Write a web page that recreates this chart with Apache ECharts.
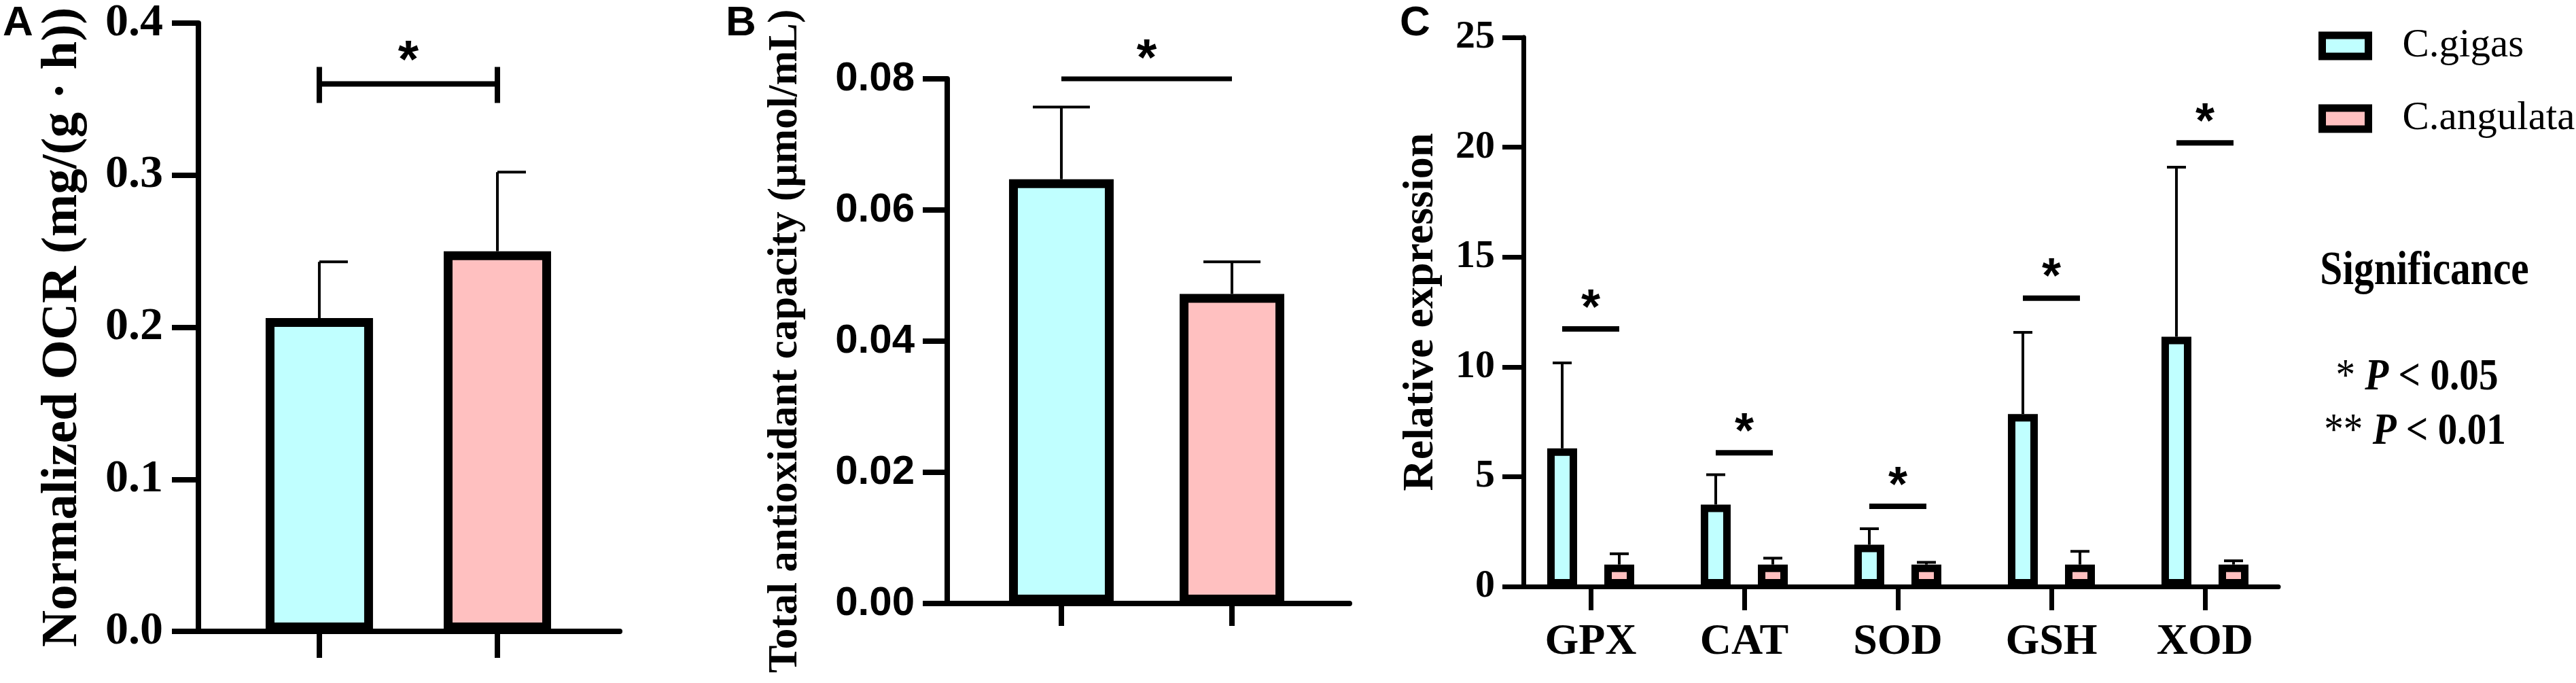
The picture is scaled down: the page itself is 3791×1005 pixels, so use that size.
<!DOCTYPE html>
<html>
<head>
<meta charset="utf-8">
<title>Oyster OCR, T-AOC and antioxidant gene expression</title>
<script src="https://cdn.jsdelivr.net/npm/echarts@6/dist/echarts.min.js"></script>
<style>
  html, body { margin: 0; padding: 0; background: #fff; }
  #main { width: 3791px; height: 1005px; }
</style>
</head>
<body>
<div id="main"></div>
<script>
// A - normalized oxygen consumption rate
var groups = ['C.gigas', 'C.angulata'];
var ocrMean = [0.206, 0.250];
var ocrSd = [0.037, 0.052];
var ocrSig = [0.36];

// B - total antioxidant capacity
var taocMean = [0.0647, 0.0472];
var taocSd = [0.0110, 0.0049];
var taocSig = [0.08];

// C - relative expression of antioxidant genes
var genes = ['GPX', 'CAT', 'SOD', 'GSH', 'XOD'];
var gigasExpr = [6.29, 3.73, 1.90, 7.85, 11.37];
var gigasSd = [3.89, 1.36, 0.73, 3.72, 7.72];
var angulataExpr = [1, 1, 1, 1, 1];
var angulataSd = [0.49, 0.29, 0.10, 0.60, 0.17];
var geneSig = [11.73, 6.09, 3.65, 13.13, 20.2];

var CYAN = '#C0FFFF', PINK = '#FFC0C0';
var groupColors = [CYAN, PINK];
var SERIF = 'Liberation Serif', SANS = 'Liberation Sans';

var chart = echarts.init(document.getElementById('main'));

function idx(arr) { return arr.map(function (d, i) { return i; }); }

// error bar: line up from the bar top plus a cap
function errorBar(capL, capR, dx) {
    return function (params, api) {
        var base = api.coord([api.value(0), api.value(1)]);
        var top = api.coord([api.value(0), api.value(1) + api.value(2)]);
        var cx = base[0] + dx;
        return {
            type: 'group',
            children: [
                { type: 'line', shape: { x1: cx, y1: base[1], x2: cx, y2: top[1] }, style: { stroke: '#000', lineWidth: 4 } },
                { type: 'line', shape: { x1: cx - capL, y1: top[1], x2: cx + capR, y2: top[1] }, style: { stroke: '#000', lineWidth: 4 } }
            ]
        };
    };
}

// significance line (optionally with end ticks) and a star above it
function sigMark(o) {
    return function (params, api) {
        var p0 = api.coord([api.value(0), api.value(2)]);
        var p1 = api.coord([api.value(1), api.value(2)]);
        var x0 = p0[0] + o.dx0, x1 = p1[0] + o.dx1, y = p0[1];
        var kids = [
            { type: 'line', shape: { x1: x0, y1: y, x2: x1, y2: y }, style: { stroke: '#000', lineWidth: o.lw } },
            { type: 'text', x: (x0 + x1) / 2, y: y - o.starGap,
              style: { text: '*', fill: '#000', align: 'center', verticalAlign: 'middle',
                       fontFamily: SANS, fontWeight: 'bold', fontSize: o.starSize } }
        ];
        if (o.ends) {
            kids.push({ type: 'line', shape: { x1: x0, y1: y - o.ends[0], x2: x0, y2: y + o.ends[1] }, style: { stroke: '#000', lineWidth: o.lw } });
            kids.push({ type: 'line', shape: { x1: x1, y1: y - o.ends[0], x2: x1, y2: y + o.ends[1] }, style: { stroke: '#000', lineWidth: o.lw } });
        }
        return { type: 'group', children: kids };
    };
}

function xAxisOf(grid, min, max, ticks, tickLen, lw, label) {
    return {
        gridIndex: grid, type: 'value', min: min, max: max,
        axisLine: { show: true, onZero: false, lineStyle: { color: '#000', width: lw } },
        axisTick: { show: true, customValues: ticks, length: tickLen, lineStyle: { color: '#000', width: lw } },
        axisLabel: label || { show: false },
        splitLine: { show: false }
    };
}

function yAxisOf(grid, max, interval, digits, tickLen, lw, label, name, nameGap, nameSize) {
    return {
        gridIndex: grid, type: 'value', min: 0, max: max, interval: interval,
        axisLine: { show: true, onZero: false, lineStyle: { color: '#000', width: lw } },
        axisTick: { show: true, length: tickLen, lineStyle: { color: '#000', width: lw } },
        axisLabel: Object.assign({ color: '#000', fontWeight: 'bold',
            formatter: function (v) { return digits === 0 ? String(Math.round(v)) : v.toFixed(digits); } }, label),
        splitLine: { show: false },
        name: name, nameLocation: 'middle', nameGap: nameGap,
        nameTextStyle: { color: '#000', fontFamily: SERIF, fontWeight: 'bold', fontSize: nameSize }
    };
}

var option = {
    animation: false,
    backgroundColor: '#fff',
    grid: [
        { left: 292, top: 32, width: 620, height: 897 },
        { left: 1394, top: 116, width: 592, height: 772 },
        { left: 2242, top: 55, width: 1111, height: 808 }
    ],
    xAxis: [
        xAxisOf(0, -0.679, 1.687, idx(groups), 39, 8),
        xAxisOf(1, -0.669, 1.689, idx(groups), 33, 8),
        xAxisOf(2, -0.438, 4.478, idx(genes), 35, 7, {
            show: true, customValues: idx(genes), margin: 50, color: '#000',
            fontFamily: SERIF, fontWeight: 'bold', fontSize: 64,
            formatter: function (v) { return genes[Math.round(v)]; }
        })
    ],
    yAxis: [
        yAxisOf(0, 0.4, 0.1, 1, 39, 8, { margin: 52, fontFamily: SERIF, fontSize: 68 },
            'Normalized OCR (mg/(g · h))', 162, 75),
        yAxisOf(1, 0.08, 0.02, 2, 36, 8, { margin: 48, fontFamily: SANS, fontSize: 60 },
            'Total antioxidant capacity (µmol/mL)', 207, 61),
        yAxisOf(2, 25, 5, 0, 31, 7, { margin: 42, fontFamily: SERIF, fontSize: 58 },
            'Relative expression', 119, 64)
    ],
    legend: {
        data: ['C.gigas', 'C.angulata'],
        orient: 'vertical', left: 3412, top: 38, padding: 0,
        itemWidth: 68, itemHeight: 31, itemGap: 48, icon: 'rect',
        selectedMode: false,
        itemStyle: { borderColor: '#000', borderWidth: 11 },
        textStyle: { color: '#000', fontFamily: SERIF, fontSize: 59, padding: [0, 0, 0, 45] }
    },
    graphic: [
        { type: 'text', x: 4, y: 35, style: { text: 'A', fill: '#000', verticalAlign: 'middle', fontFamily: SANS, fontWeight: 'bold', fontSize: 62 } },
        { type: 'text', x: 1068, y: 35, style: { text: 'B', fill: '#000', verticalAlign: 'middle', fontFamily: SANS, fontWeight: 'bold', fontSize: 62 } },
        { type: 'text', x: 2060, y: 35, style: { text: 'C', fill: '#000', verticalAlign: 'middle', fontFamily: SANS, fontWeight: 'bold', fontSize: 62 } },
        { type: 'text', x: 3568, y: 400, scaleX: 0.85,
          style: { text: 'Significance', fill: '#000', align: 'center', verticalAlign: 'middle', fontFamily: SERIF, fontWeight: 'bold', fontSize: 70 } },
        { type: 'text', x: 3557, y: 556, scaleX: 0.88,
          style: { text: '{s|*} {p|P} {n|< 0.05}', fill: '#000', align: 'center', verticalAlign: 'middle',
                   fontFamily: SERIF, fontWeight: 'bold', fontSize: 65,
                   rich: { s: { fontFamily: SERIF, fontSize: 65 },
                           p: { fontFamily: SERIF, fontSize: 65, fontWeight: 'bold', fontStyle: 'italic' },
                           n: { fontFamily: SERIF, fontSize: 65, fontWeight: 'bold' } } } },
        { type: 'text', x: 3554, y: 636, scaleX: 0.88,
          style: { text: '{s|**} {p|P} {n|< 0.01}', fill: '#000', align: 'center', verticalAlign: 'middle',
                   fontFamily: SERIF, fontWeight: 'bold', fontSize: 65,
                   rich: { s: { fontFamily: SERIF, fontSize: 65 },
                           p: { fontFamily: SERIF, fontSize: 65, fontWeight: 'bold', fontStyle: 'italic' },
                           n: { fontFamily: SERIF, fontSize: 65, fontWeight: 'bold' } } } }
    ],
    series: [
        // A
        {
            name: 'OCR', type: 'bar', xAxisIndex: 0, yAxisIndex: 0, barWidth: 158,
            itemStyle: { borderColor: '#000', borderWidth: 13 },
            data: ocrMean.map(function (v, i) { return { value: [i, v], itemStyle: { color: groupColors[i] } }; })
        },
        {
            name: 'OCR error', type: 'custom', xAxisIndex: 0, yAxisIndex: 0,
            renderItem: errorBar(0, 42, 0),
            data: ocrMean.map(function (v, i) { return [i, v, ocrSd[i]]; })
        },
        {
            name: 'OCR sig', type: 'custom', xAxisIndex: 0, yAxisIndex: 0,
            renderItem: sigMark({ dx0: 0, dx1: 0, lw: 8, starGap: 31, starSize: 78, ends: [25, 28] }),
            data: [[0, 1, ocrSig[0]]]
        },
        // B
        {
            name: 'T-AOC', type: 'bar', xAxisIndex: 1, yAxisIndex: 1, barWidth: 154,
            itemStyle: { borderColor: '#000', borderWidth: 13 },
            data: taocMean.map(function (v, i) { return { value: [i, v], itemStyle: { color: groupColors[i] } }; })
        },
        {
            name: 'T-AOC error', type: 'custom', xAxisIndex: 1, yAxisIndex: 1,
            renderItem: errorBar(42, 42, 0),
            data: taocMean.map(function (v, i) { return [i, v, taocSd[i]]; })
        },
        {
            name: 'T-AOC sig', type: 'custom', xAxisIndex: 1, yAxisIndex: 1,
            renderItem: sigMark({ dx0: 0, dx1: 0, lw: 7, starGap: 27, starSize: 76 }),
            data: [[0, 1, taocSig[0]]]
        },
        // C
        {
            name: 'C.gigas', type: 'bar', xAxisIndex: 2, yAxisIndex: 2, barWidth: 44, barGap: '91%',
            itemStyle: { color: CYAN, borderColor: '#000', borderWidth: 11 },
            data: gigasExpr.map(function (v, i) { return [i, v]; })
        },
        {
            name: 'C.angulata', type: 'bar', xAxisIndex: 2, yAxisIndex: 2, barWidth: 44, barGap: '91%',
            itemStyle: { color: PINK, borderColor: '#000', borderWidth: 11 },
            data: angulataExpr.map(function (v, i) { return [i, v]; })
        },
        {
            name: 'C.gigas error', type: 'custom', xAxisIndex: 2, yAxisIndex: 2,
            renderItem: errorBar(14, 14, -42),
            data: gigasExpr.map(function (v, i) { return [i, v, gigasSd[i]]; })
        },
        {
            name: 'C.angulata error', type: 'custom', xAxisIndex: 2, yAxisIndex: 2,
            renderItem: errorBar(14, 14, 42),
            data: angulataExpr.map(function (v, i) { return [i, v, angulataSd[i]]; })
        },
        {
            name: 'gene sig', type: 'custom', xAxisIndex: 2, yAxisIndex: 2,
            renderItem: sigMark({ dx0: -42, dx1: 42, lw: 8, starGap: 28, starSize: 72 }),
            data: geneSig.map(function (v, i) { return [i, i, v]; })
        }
    ]
};

chart.setOption(option);
window.onresize = chart.resize;
</script>
</body>
</html>
